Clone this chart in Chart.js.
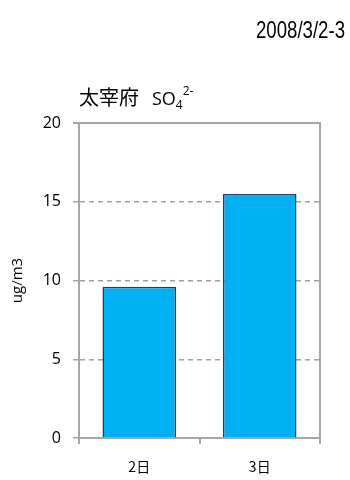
<!DOCTYPE html>
<html>
<head>
<meta charset="utf-8">
<script src="https://cdn.jsdelivr.net/npm/chart.js@4/dist/chart.umd.min.js"></script>
<style>
html,body{margin:0;padding:0;background:#fff;}
#wrap{width:350px;height:480px;position:relative;}
</style>
</head>
<body>
<div id="wrap"><canvas id="c" width="350" height="480"></canvas></div>
<script>
const categories = ["2日", "3日"];
const so4Values = [9.6, 15.5];
const yTicks = [0, 5, 10, 15, 20];
const stationName = "太宰府";
const dateLabel = "2008/3/2-3";
const yAxisLabel = "ug/m3";

const FONT = "'Noto Sans CJK JP','Noto Sans',sans-serif";

const decorPlugin = {
  id: 'decor',
  afterDraw(chart) {
    const ctx = chart.ctx;
    const a = chart.chartArea;
    ctx.save();
    // frame top and right
    ctx.strokeStyle = '#A6A6A6';
    ctx.lineWidth = 2;
    ctx.setLineDash([]);
    ctx.beginPath();
    ctx.moveTo(a.left - 6, a.top);
    ctx.lineTo(a.right, a.top);
    ctx.lineTo(a.right, a.bottom);
    ctx.stroke();
    // date (condensed)
    ctx.fillStyle = '#000';
    ctx.textBaseline = 'alphabetic';
    ctx.textAlign = 'left';
    ctx.font = "24px 'Liberation Sans','Noto Sans',sans-serif";
    const dw = ctx.measureText(dateLabel).width;
    ctx.save();
    ctx.translate(256, 38);
    ctx.scale(89 / dw, 1);
    ctx.fillText(dateLabel, 0, 0);
    ctx.restore();
    // title
    ctx.font = "20px " + FONT;
    ctx.fillText(stationName, 79, 105);
    ctx.font = "18px 'Open Sans','Noto Sans',sans-serif";
    ctx.fillText("SO", 152, 105);
    let w = ctx.measureText("SO").width;
    ctx.font = "12px 'Open Sans','Noto Sans',sans-serif";
    ctx.fillText("4", 152 + w, 109);
    let w4 = ctx.measureText("4").width;
    ctx.fillText("2-", 152 + w + w4, 95);
    // y axis title
    ctx.save();
    ctx.translate(22, (a.top + a.bottom) / 2);
    ctx.rotate(-Math.PI / 2);
    ctx.textAlign = 'center';
    ctx.font = "15px 'Open Sans','Noto Sans',sans-serif";
    ctx.fillText(yAxisLabel, 0, 0);
    ctx.restore();
    ctx.restore();
  }
};

new Chart(document.getElementById('c'), {
  type: 'bar',
  data: {
    labels: categories,
    datasets: [{
      data: so4Values,
      backgroundColor: '#00B0F0',
      borderColor: '#1F3A6E',
      borderWidth: 1.5,
      barPercentage: 0.61,
      categoryPercentage: 1.0
    }]
  },
  options: {
    responsive: false,
    animation: false,
    devicePixelRatio: 1,
    layout: { padding: { left: 0, right: 30, top: 123, bottom: 0 } },
    plugins: { legend: { display: false }, tooltip: { enabled: false }, title: { display: false } },
    scales: {
      x: {
        grid: { offset: true, drawOnChartArea: false, tickLength: 6, color: '#A6A6A6', lineWidth: 2 },
        border: { color: '#A6A6A6', width: 2 },
        ticks: { color: '#000', font: { size: 14, family: FONT }, padding: 14 },
        afterFit(s) { s.height = 42; }
      },
      y: {
        min: 0, max: 20,
        afterBuildTicks(s) { s.ticks = yTicks.map(v => ({ value: v })); },
        grid: { color: '#A0A0A0', lineWidth: 1.5, tickLength: 6, tickBorderDash: [], tickColor: '#A6A6A6' },
        border: { color: '#A6A6A6', width: 2, dash: [5, 4] },
        ticks: { color: '#000', font: { size: 16, family: "'Open Sans','Noto Sans',sans-serif" }, padding: 12 },
        afterFit(s) { s.width = 79; }
      }
    }
  },
  plugins: [decorPlugin]
});
</script>
</body>
</html>
